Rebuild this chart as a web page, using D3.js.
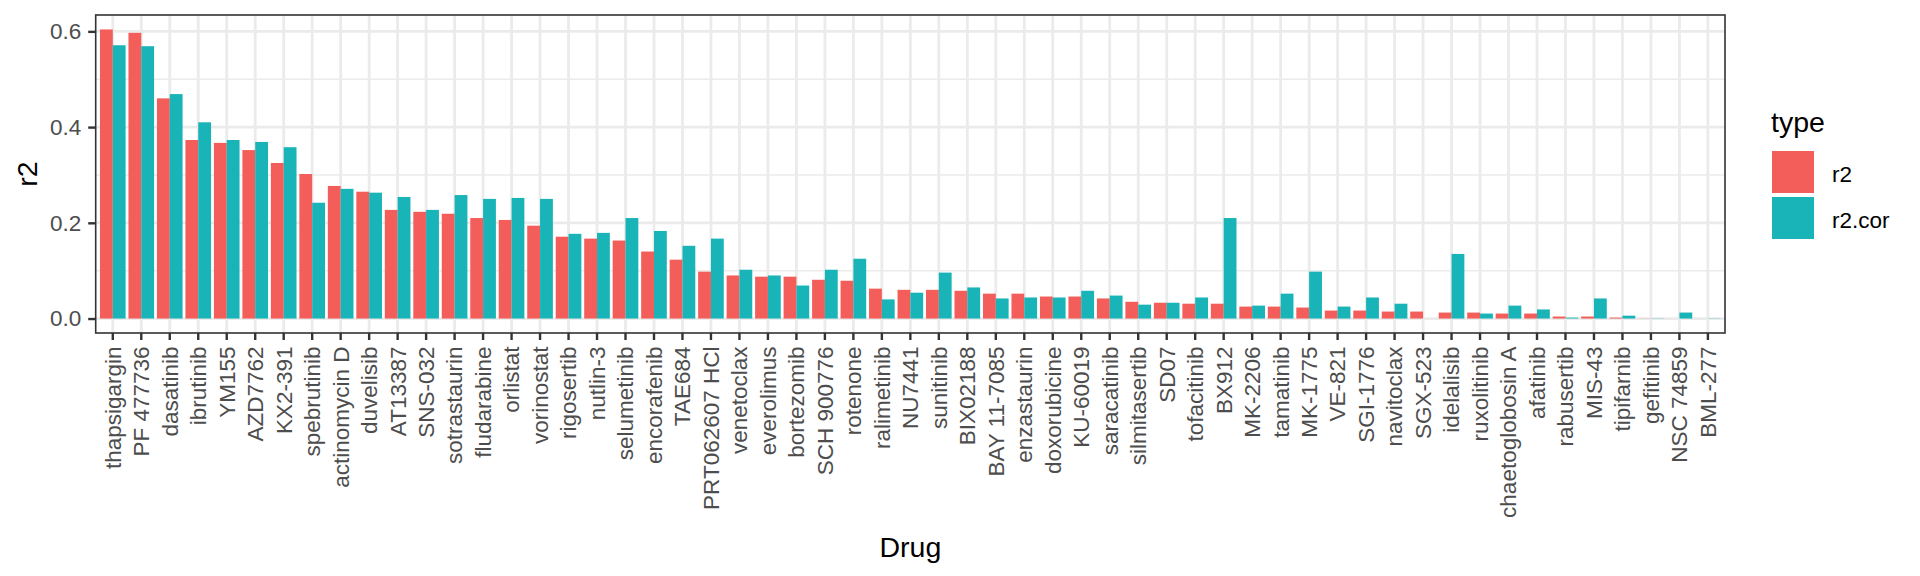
<!DOCTYPE html>
<html>
<head>
<meta charset="utf-8">
<script src="https://cdn.jsdelivr.net/npm/d3@7"></script>
<style>
  body { margin: 0; background: #fff; }
  text { font-family: "Liberation Sans", Arial, Helvetica, sans-serif; }
</style>
</head>
<body>
<div id="chart"></div>
<script>
// drugs, ordered as on the x axis
var drugs = ["thapsigargin", "PF 477736", "dasatinib", "ibrutinib", "YM155", "AZD7762", "KX2-391",
  "spebrutinib", "actinomycin D", "duvelisib", "AT13387", "SNS-032", "sotrastaurin", "fludarabine",
  "orlistat", "vorinostat", "rigosertib", "nutlin-3", "selumetinib", "encorafenib", "TAE684",
  "PRT062607 HCl", "venetoclax", "everolimus", "bortezomib", "SCH 900776", "rotenone", "ralimetinib",
  "NU7441", "sunitinib", "BIX02188", "BAY 11-7085", "enzastaurin", "doxorubicine", "KU-60019",
  "saracatinib", "silmitasertib", "SD07", "tofacitinib", "BX912", "MK-2206", "tamatinib", "MK-1775",
  "VE-821", "SGI-1776", "navitoclax", "SGX-523", "idelalisib", "ruxolitinib", "chaetoglobosin A",
  "afatinib", "rabusertib", "MIS-43", "tipifarnib", "gefitinib", "NSC 74859", "BML-277"];

var r2 = [0.604, 0.597, 0.460, 0.373, 0.367, 0.352, 0.325,
  0.302, 0.277, 0.265, 0.227, 0.223, 0.219, 0.210,
  0.206, 0.194, 0.171, 0.167, 0.163, 0.140, 0.123,
  0.098, 0.090, 0.0875, 0.0875, 0.081, 0.079, 0.0625,
  0.060, 0.060, 0.058, 0.052, 0.052, 0.046, 0.046,
  0.042, 0.035, 0.033, 0.031, 0.031, 0.025, 0.025, 0.023,
  0.0167, 0.0167, 0.0146, 0.0146, 0.0125, 0.0125, 0.0104,
  0.0104, 0.0042, 0.0042, 0.002, 0.0003, 0, 0];

var r2cor = [0.571, 0.569, 0.469, 0.410, 0.373, 0.369, 0.358,
  0.242, 0.271, 0.263, 0.254, 0.227, 0.258, 0.250,
  0.252, 0.250, 0.177, 0.179, 0.210, 0.183, 0.152,
  0.167, 0.102, 0.090, 0.069, 0.102, 0.125, 0.040,
  0.054, 0.096, 0.065, 0.042, 0.044, 0.044, 0.058,
  0.048, 0.029, 0.033, 0.044, 0.210, 0.027, 0.052, 0.098,
  0.025, 0.044, 0.031, 0, 0.135, 0.0104, 0.027,
  0.019, 0.002, 0.042, 0.006, 0.0005, 0.0125, 0.0005];

var types = ["r2", "r2.cor"];
var yTicks = [0, 0.2, 0.4, 0.6];
var yMinor = [0.1, 0.3, 0.5];

function init(){
	var W = 1920, H = 576;
	var left = 95.7, right = 1725, top = 15, bottom = 333;
	var colors = d3.scaleOrdinal().domain(types).range(["#F35E5A", "#19B4B8"]);

	var rows = drugs.map(function(d, i){
		return { drug: d, values: [ { type: "r2", v: r2[i] }, { type: "r2.cor", v: r2cor[i] } ] };
	});

	//x: discrete scale with ggplot's 0.6 unit expansion
	var xScale = d3.scaleBand()
					.domain(drugs)
					.range([left, right])
					.paddingInner(0)
					.paddingOuter(0.1);
	var xDodge = d3.scaleBand()
					.domain(types)
					.range([xScale.bandwidth() * 0.05, xScale.bandwidth() * 0.95]);

	var yMax = d3.max(r2.concat(r2cor));
	var yScale = d3.scaleLinear()
					.domain([-0.05 * yMax, 1.05 * yMax])
					.range([bottom, top]);

	var svg = d3.select("#chart")
				.append("svg")
				.attr("width", W)
				.attr("height", H);

	svg.append("rect").attr("width", W).attr("height", H).attr("fill", "#fff");

	//grid
	var grid = svg.append("g");
	grid.selectAll(".minor")
		.data(yMinor)
		.enter()
		.append("line")
		.attr("x1", left).attr("x2", right)
		.attr("y1", function(d){ return yScale(d); })
		.attr("y2", function(d){ return yScale(d); })
		.attr("stroke", "#EBEBEB").attr("stroke-width", 1.4);
	grid.selectAll(".major")
		.data(yTicks)
		.enter()
		.append("line")
		.attr("x1", left).attr("x2", right)
		.attr("y1", function(d){ return yScale(d); })
		.attr("y2", function(d){ return yScale(d); })
		.attr("stroke", "#EBEBEB").attr("stroke-width", 2.8);
	grid.selectAll(".vert")
		.data(drugs)
		.enter()
		.append("line")
		.attr("x1", function(d){ return xScale(d) + xScale.bandwidth() / 2; })
		.attr("x2", function(d){ return xScale(d) + xScale.bandwidth() / 2; })
		.attr("y1", top).attr("y2", bottom)
		.attr("stroke", "#EBEBEB").attr("stroke-width", 2.8);

	//bars
	var groups = svg.selectAll(".drug")
					.data(rows)
					.enter()
					.append("g")
					.attr("transform", function(d){ return "translate(" + xScale(d.drug) + ",0)"; });

	groups.selectAll("rect")
		.data(function(d){ return d.values; })
		.enter()
		.append("rect")
		.attr("x", function(d){ return xDodge(d.type); })
		.attr("y", function(d){ return yScale(d.v); })
		.attr("width", xDodge.bandwidth())
		.attr("height", function(d){ return yScale(0) - yScale(d.v); })
		.attr("fill", function(d){ return colors(d.type); });

	//panel border
	svg.append("rect")
		.attr("x", left).attr("y", top)
		.attr("width", right - left).attr("height", bottom - top)
		.attr("fill", "none").attr("stroke", "#333333").attr("stroke-width", 1.6);

	//axes
	var yAxis = svg.append("g")
		.attr("transform", "translate(" + left + ",0)")
		.call(d3.axisLeft(yScale).tickValues(yTicks).tickFormat(d3.format(".1f"))
			.tickSize(7.5).tickSizeOuter(0).tickPadding(7));
	yAxis.select(".domain").remove();
	yAxis.selectAll("line").attr("stroke", "#333333").attr("stroke-width", 2.4);
	yAxis.selectAll("text").attr("fill", "#4D4D4D").style("font-size", "22.5px")
		.attr("font-family", null);

	var xAxis = svg.append("g")
		.attr("transform", "translate(0," + bottom + ")")
		.call(d3.axisBottom(xScale).tickSize(7).tickSizeOuter(0));
	xAxis.select(".domain").remove();
	xAxis.selectAll("line").attr("stroke", "#333333").attr("stroke-width", 2.4);
	xAxis.selectAll("text")
		.attr("fill", "#4D4D4D")
		.style("font-size", "22.5px")
		.attr("font-family", null)
		.attr("transform", "rotate(-90)")
		.attr("text-anchor", "end")
		.attr("x", -13.5)
		.attr("y", 0)
		.attr("dy", "0.35em");

	//titles
	svg.append("text")
		.attr("x", (left + right) / 2).attr("y", 557)
		.attr("text-anchor", "middle")
		.style("font-size", "28.5px")
		.text("Drug");
	svg.append("text")
		.attr("transform", "translate(37," + ((top + bottom) / 2) + ") rotate(-90)")
		.attr("text-anchor", "middle")
		.style("font-size", "28.5px")
		.text("r2");

	//legend
	var legend = svg.append("g").attr("transform", "translate(1771,0)");
	legend.append("text").attr("x", 0).attr("y", 132).style("font-size", "28.5px").text("type");
	var items = legend.selectAll(".item")
		.data(types)
		.enter()
		.append("g")
		.attr("transform", function(d, i){ return "translate(1," + (151 + i * 46) + ")"; });
	items.append("rect")
		.attr("width", 42).attr("height", 42)
		.attr("fill", function(d){ return colors(d); });
	items.append("text")
		.attr("x", 60).attr("y", 30.5)
		.style("font-size", "22.5px")
		.text(function(d){ return d; });
}

window.onload = init;
</script>
</body>
</html>
